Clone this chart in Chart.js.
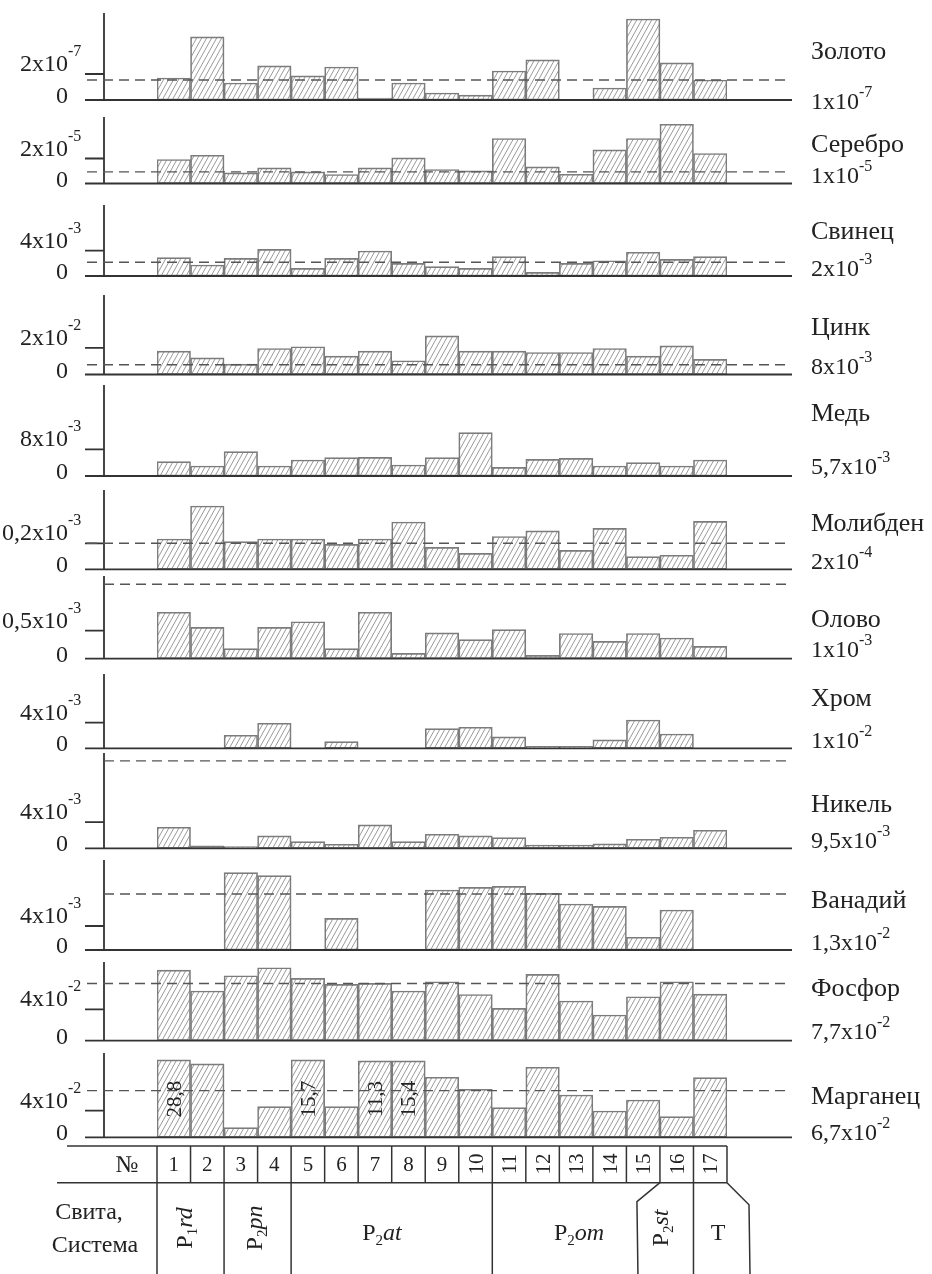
<!DOCTYPE html>
<html>
<head>
<meta charset="utf-8">
<script src="https://cdn.jsdelivr.net/npm/chart.js@4.4.0/dist/chart.umd.min.js"></script>
<style>
html, body { margin: 0; padding: 0; background: #fff; }
#page { position: relative; width: 932px; height: 1274px; overflow: hidden; font-family: "Liberation Serif", "DejaVu Serif", serif; color: #222; }
#page canvas { position: absolute; left: 0; }
.t { position: absolute; white-space: nowrap; font-size: 24px; line-height: 1; }
.t .m { position: relative; display: inline-block; }
.t sup { position: absolute; left: 100%; font-size: 16px; line-height: 1; vertical-align: baseline; }
.yl sup { top: -8px; }
.rl sup { top: -5px; }
.nm { font-size: 26px; }
.num { font-size: 21px; }
.sub { font-size: 15px; position: relative; top: 5px; }
svg { position: absolute; left: 0; top: 0; }
</style>
</head>
<body>
<div id="page"></div>
<script>
// elements and background (clarke) values
var elements = ['Золото', 'Серебро', 'Свинец', 'Цинк', 'Медь', 'Молибден', 'Олово', 'Хром', 'Никель', 'Ванадий', 'Фосфор', 'Марганец'];
var clarkeMant = ['1x10', '1x10', '2x10', '8x10', '5,7x10', '2x10', '1x10', '1x10', '9,5x10', '1,3x10', '7,7x10', '6,7x10'];
var clarkeExp = ['-7', '-5', '-3', '-3', '-3', '-4', '-3', '-2', '-3', '-2', '-2', '-2'];

// y tick label of each panel and its value (in the label's units)
var tickMant = ['2x10', '2x10', '4x10', '2x10', '8x10', '0,2x10', '0,5x10', '4x10', '4x10', '4x10', '4x10', '4x10'];
var tickExp = ['-7', '-5', '-3', '-2', '-3', '-3', '-3', '-3', '-3', '-3', '-2', '-2'];
var tickValues = [2, 2, 4, 2, 8, 0.2, 0.5, 4, 4, 4, 4, 4];
var dashValues = [1.54, 0.93, 2.16, 0.73, null, 0.2, 1.33, null, 13.4, 9.33, 7.32, 7.0];
var axisMax = [6.69, 5.32, 11.2, 5.96, 27.3, 0.61, 1.477, 11.56, 14.6, 15.0, 10.06, 12.63];

// sample numbers
var cellNumbers = ['1', '2', '3', '4', '5', '6', '7', '8', '9', '10', '11', '12', '13', '14', '15', '16', '17'];

var gold = [1.69, 4.85, 1.31, 2.62, 1.85, 2.54, 0.15, 1.31, 0.54, 0.38, 2.23, 3.08, null, 0.92, 6.23, 2.85, 1.54];
var silver = [1.92, 2.26, 0.85, 1.25, 0.93, 0.72, 1.25, 2.05, 1.12, 1.01, 3.6, 1.33, 0.74, 2.69, 3.6, 4.74, 2.4];
var lead = [2.9, 1.74, 2.79, 4.2, 1.2, 2.79, 3.95, 2.0, 1.47, 1.2, 3.05, 0.58, 2.0, 2.4, 3.74, 2.63, 3.05];
var zinc = [1.75, 1.25, 0.78, 1.95, 2.08, 1.38, 1.75, 1.03, 2.9, 1.75, 1.75, 1.65, 1.65, 1.95, 1.38, 2.15, 1.13];
var copper = [4.3, 3.0, 7.3, 3.0, 4.8, 5.5, 5.6, 3.3, 5.5, 13, 2.6, 5.0, 5.3, 3.0, 4.0, 3.0, 4.8];
var molybdenum = [0.233, 0.487, 0.213, 0.233, 0.233, 0.192, 0.233, 0.364, 0.169, 0.123, 0.252, 0.295, 0.146, 0.315, 0.098, 0.108, 0.369];
var tin = [0.83, 0.56, 0.18, 0.56, 0.66, 0.18, 0.83, 0.095, 0.46, 0.34, 0.52, 0.06, 0.45, 0.31, 0.45, 0.37, 0.22];
var chromium = [null, null, 2.03, 3.9, null, 1.04, null, null, 3.06, 3.27, 1.77, 0.31, 0.31, 1.3, 4.4, 2.23, null];
var nickel = [3.23, 0.36, 0.26, 1.9, 1.03, 0.62, 3.6, 1.03, 2.15, 1.9, 1.64, 0.51, 0.51, 0.67, 1.38, 1.69, 2.77];
var vanadium = [null, null, 12.9, 12.4, null, 5.28, null, null, 10.0, 10.45, 10.6, 9.45, 7.67, 7.28, 2.12, 6.67, null];
var phosphorus = [9.03, 6.35, 8.3, 9.32, 7.96, 7.19, 7.32, 6.35, 7.54, 5.91, 4.13, 8.47, 5.07, 3.28, 5.62, 7.54, 5.96];
var manganese = [11.6, 11.0, 1.45, 4.6, 11.6, 4.6, 11.44, 11.44, 9.0, 7.2, 4.45, 10.5, 6.34, 3.94, 5.59, 3.1, 8.95];
var manganeseNotes = ['28,8', '', '', '', '15,7', '', '11,3', '15,4', '', '', '', '', '', '', '', '', ''];

var series = [gold, silver, lead, zinc, copper, molybdenum, tin, chromium, nickel, vanadium, phosphorus, manganese];

// suites (formations) under the table
var suiteP = ['P', 'P', 'P', 'P', 'P', 'T'];
var suiteIdx = ['1', '2', '2', '2', '2', ''];
var suiteName = ['rd', 'pn', 'at', 'om', 'st', ''];
var suiteRotated = [true, true, false, false, true, false];

// layout
var panelTop = [13, 117, 205, 295, 385, 490, 576, 674, 753, 860, 962, 1053];
var panelBottom = [100, 183.5, 276, 374.5, 476, 569.3, 658.7, 748.3, 848.3, 950, 1040.7, 1137.3];
var nameY = [51, 144, 231, 327, 413, 523, 619, 698, 804, 900, 988, 1096];
var clarkeY = [101, 175, 268, 366, 466, 561, 649, 740, 840, 942, 1031, 1132];
var dashFromAxis = [false, false, false, false, false, false, true, false, true, true, false, false];
var suiteX = [184, 254, 382, 579, 660, 718];
var PAGE_W = 932, AXIS_X = 104, TICK_X = 85, DASH_X = 87, LINE_END = 792, PLOT_L = 157, PLOT_R = 727, PAD = 8;
var LABEL_R = 68, NAME_X = 811;
var T_TOP = 1146, T_MID = 1182.7, T_BOT = 1274;

var page = document.getElementById('page');

function hatchPattern() {
  var w = 5, h = 9;
  var c = document.createElement('canvas');
  c.width = w; c.height = h;
  var g = c.getContext('2d');
  g.strokeStyle = '#787878';
  g.lineWidth = 0.75;
  for (var k = -1; k <= 1; k++) {
    g.beginPath();
    g.moveTo(k * w, h);
    g.lineTo(k * w + w, 0);
    g.stroke();
  }
  return g.createPattern(c, 'repeat');
}

function addText(html, x, y, cls, transform) {
  var d = document.createElement('div');
  d.className = 't ' + (cls || '');
  d.innerHTML = html;
  d.style.left = x + 'px';
  d.style.top = y + 'px';
  if (transform) d.style.transform = transform;
  page.appendChild(d);
  return d;
}

function decor(p) {
  return {
    id: 'decor' + p,
    afterDatasetsDraw: function (chart) {
      var ctx = chart.ctx, ys = chart.scales.y;
      var y0 = ys.getPixelForValue(0), yTop = ys.getPixelForValue(axisMax[p]);
      var yt = ys.getPixelForValue(tickValues[p]);
      ctx.save();
      ctx.strokeStyle = '#333';
      ctx.lineWidth = 1.8;
      ctx.beginPath();
      ctx.moveTo(AXIS_X, yTop); ctx.lineTo(AXIS_X, y0);
      ctx.moveTo(TICK_X, y0); ctx.lineTo(LINE_END, y0);
      ctx.moveTo(TICK_X, yt); ctx.lineTo(AXIS_X, yt);
      ctx.stroke();
      if (dashValues[p] !== null) {
        var yd = ys.getPixelForValue(dashValues[p]);
        ctx.setLineDash([10, 6]);
        ctx.lineWidth = 1.4;
        ctx.strokeStyle = '#555';
        ctx.beginPath();
        ctx.moveTo(dashFromAxis[p] ? AXIS_X : DASH_X, yd);
        ctx.lineTo(LINE_END - 4, yd);
        ctx.stroke();
      }
      ctx.restore();
    }
  };
}

var hatch = hatchPattern();
var charts = [];

elements.forEach(function (name, p) {
  var top = Math.round(panelTop[p] - PAD), bottom = Math.round(panelBottom[p] + PAD);
  var cv = document.createElement('canvas');
  cv.width = PAGE_W; cv.height = bottom - top;
  cv.style.top = top + 'px';
  cv.style.width = PAGE_W + 'px';
  cv.style.height = (bottom - top) + 'px';
  page.appendChild(cv);

  var chart = new Chart(cv, {
    type: 'bar',
    data: {
      labels: cellNumbers,
      datasets: [{
        data: series[p],
        backgroundColor: hatch,
        borderColor: '#7c7c7c',
        borderWidth: 1,
        borderSkipped: false,
        barPercentage: 1,
        categoryPercentage: 1
      }]
    },
    options: {
      responsive: false,
      animation: false,
      devicePixelRatio: 1,
      layout: { padding: { left: PLOT_L, right: PAGE_W - PLOT_R, top: panelTop[p] - top, bottom: bottom - panelBottom[p] } },
      plugins: { legend: { display: false }, tooltip: { enabled: false } },
      scales: {
        x: { display: false, offset: true },
        y: { display: false, min: 0, max: axisMax[p] }
      }
    },
    plugins: [decor(p)]
  });
  charts.push(chart);

  var ys = chart.scales.y;
  // y labels
  addText('<span class="m">0</span>', LABEL_R, top + ys.getPixelForValue(0) - 5, 'yl', 'translate(-100%,-50%)');
  addText('<span class="m">' + tickMant[p] + '<sup>' + tickExp[p] + '</sup></span>', LABEL_R,
    top + ys.getPixelForValue(tickValues[p]) - 11, 'yl', 'translate(-100%,-50%)');
  // right labels
  addText(name, NAME_X, nameY[p], 'nm', 'translate(0,-50%)');
  addText('<span class="m">' + clarkeMant[p] + '<sup>' + clarkeExp[p] + '</sup></span>', NAME_X,
    clarkeY[p], 'rl', 'translate(0,-50%)');

  if (p === series.length - 1) {
    var meta = chart.getDatasetMeta(0);
    manganeseNotes.forEach(function (txt, i) {
      if (!txt) return;
      var bar = meta.data[i];
      addText(txt, bar.x, top + (bar.y + bar.base) / 2, 'num', 'translate(-50%,-50%) rotate(-90deg)');
    });
  }
});

// table under the charts
(function () {
  var xs = charts[charts.length - 1].scales.x;
  var w = xs.getPixelForValue(1) - xs.getPixelForValue(0);
  var b = [];
  for (var k = 0; k <= cellNumbers.length; k++) b.push(xs.getPixelForValue(0) - w / 2 + k * w);
  var ns = 'http://www.w3.org/2000/svg';
  var svg = document.createElementNS(ns, 'svg');
  svg.setAttribute('width', PAGE_W);
  svg.setAttribute('height', 1274);
  function line(pts) {
    var pl = document.createElementNS(ns, 'polyline');
    pl.setAttribute('points', pts.map(function (q) { return q.join(','); }).join(' '));
    pl.setAttribute('fill', 'none');
    pl.setAttribute('stroke', '#333');
    pl.setAttribute('stroke-width', '1.5');
    svg.appendChild(pl);
  }
  line([[67, T_TOP], [b[17], T_TOP]]);
  line([[57, T_MID], [b[17], T_MID]]);
  for (var i = 0; i <= 17; i++) line([[b[i], T_TOP], [b[i], T_MID]]);
  [0, 2, 4, 10, 16].forEach(function (k) { line([[b[k], T_MID], [b[k], T_BOT]]); });
  line([[b[15], T_MID], [b[15] - 23, T_MID + 19], [b[15] - 22, T_BOT]]);
  line([[b[17], T_MID], [b[17] + 22, T_MID + 22], [b[17] + 23, T_BOT]]);
  page.appendChild(svg);

  var yNum = (T_TOP + T_MID) / 2;
  addText('№', 127, yNum, '', 'translate(-50%,-50%)');
  cellNumbers.forEach(function (n, i) {
    var cx = (b[i] + b[i + 1]) / 2;
    addText(n, cx, yNum, 'num', i < 9 ? 'translate(-50%,-50%)' : 'translate(-50%,-50%) rotate(-90deg)');
  });
  addText('Свита,', 89, 1211, '', 'translate(-50%,-50%)');
  addText('Система', 95, 1244, '', 'translate(-50%,-50%)');
  suiteP.forEach(function (P, s) {
    var html = P + (suiteIdx[s] ? '<span class="sub">' + suiteIdx[s] + '</span>' : '') + (suiteName[s] ? '<i>' + suiteName[s] + '</i>' : '');
    addText(html, suiteX[s], suiteRotated[s] ? 1228 : 1232, '', suiteRotated[s] ? 'translate(-50%,-50%) rotate(-90deg)' : 'translate(-50%,-50%)');
  });
})();
</script>
</body>
</html>
